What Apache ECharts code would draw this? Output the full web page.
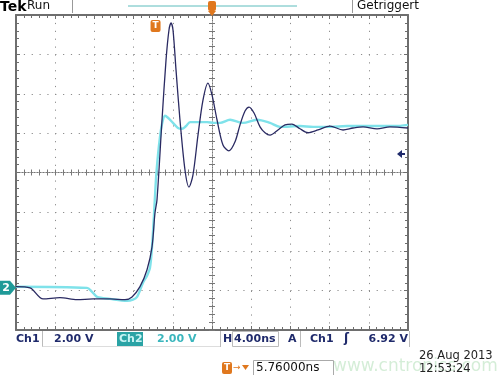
<!DOCTYPE html>
<html><head><meta charset="utf-8">
<script src="https://cdn.jsdelivr.net/npm/echarts@6/dist/echarts.min.js"></script>
<style>html,body{margin:0;padding:0;background:#fff}#c{width:500px;height:375px}</style>
</head><body><div id="c"></div>
<script>
// time in ns (4 ns/div, 0 = screen centre), amplitude in divisions (2 V/div)
const ch1Time = [-20.0,-18.57,-17.24,-15.51,-13.78,-12.14,-10.41,-8.88,-8.16,-7.35,-6.63,-6.12,-5.82,-5.61,-5.10,-4.69,-4.39,-4.18,-3.98,-3.67,-3.27,-2.76,-2.35,-1.94,-1.43,-0.92,-0.41,0.0,0.51,1.12,1.73,2.35,2.86,3.37,3.78,4.29,4.90,5.41,5.92,6.73,7.45,8.16,8.98,9.80,10.82,12.04,13.37,14.39,15.41,16.84,18.16,20.0];
const ch1Div  = [-2.90,-2.93,-3.21,-3.18,-3.23,-3.21,-3.21,-3.23,-3.16,-2.90,-2.47,-1.89,-1.03,-0.69,1.34,2.86,3.62,3.80,3.62,2.60,1.34,0.07,-0.37,-0.06,0.95,1.84,2.27,1.97,1.34,0.70,0.55,0.78,1.21,1.56,1.66,1.51,1.16,1.01,0.95,1.08,1.21,1.23,1.11,1.01,1.08,1.18,1.08,1.13,1.16,1.11,1.16,1.13];
const ch2Time = [-20.0,-12.76,-12.24,-11.73,-10.41,-8.67,-8.06,-7.65,-7.04,-6.63,-6.33,-6.12,-5.92,-5.71,-5.51,-5.31,-5.10,-4.80,-4.49,-3.98,-3.47,-3.06,-2.65,-2.24,-1.43,-0.51,0.20,0.82,1.84,3.16,4.59,5.92,6.94,8.98,10.31,12.04,13.78,15.61,17.14,18.67,20.0];
const ch2Div  = [-2.90,-2.93,-3.03,-3.16,-3.21,-3.26,-3.23,-3.16,-2.80,-2.62,-2.42,-1.89,-1.08,-0.14,0.45,0.90,1.23,1.44,1.39,1.26,1.13,1.11,1.18,1.28,1.28,1.28,1.26,1.26,1.34,1.26,1.34,1.26,1.16,1.18,1.16,1.16,1.18,1.18,1.18,1.18,1.21];
const xRange = [-20, 20];      // 10 divisions x 4 ns
const yRange = [-4, 4];        // 8 divisions
const triggerTime = -5.76;     // ns
const triggerLevelDiv = 0.47;  // 6.92 V trigger level
const ch2GroundDiv = -2.93;

const chart = echarts.init(document.getElementById('c'), null, {renderer:'canvas'});
const gridCol = '#8c8c8c', borderCol = '#6e6e6e';
function xAx(o){ return Object.assign({type:'value', min:xRange[0], max:xRange[1], interval:4, gridIndex:0,
  axisLabel:{show:false}, splitLine:{show:false}, axisLine:{show:false}, axisTick:{show:false}, minorTick:{show:false}}, o); }
function yAx(o){ return Object.assign({type:'value', min:yRange[0], max:yRange[1], interval:1, gridIndex:0,
  axisLabel:{show:false}, splitLine:{show:false}, axisLine:{show:false}, axisTick:{show:false}, minorTick:{show:false}}, o); }
const borderTick = {show:true, inside:true, length:4, lineStyle:{color:borderCol, width:1}};
const borderMinor = {show:true, splitNumber:5, length:3, lineStyle:{color:borderCol, width:1}};
const centreLine = {show:true, onZero:true, onZeroAxisIndex:0, lineStyle:{color:'#777', width:1, type:[1,2]}};
const cTick = (inside)=>({show:true, inside:inside, length:3, lineStyle:{color:'#777', width:1}});
const cMinor = {show:true, splitNumber:5, length:3, lineStyle:{color:'#777', width:1}};

chart.setOption({
  animation:false,
  backgroundColor:'#ffffff',
  grid:{left:16, right:92, top:15, bottom:45, containLabel:false, show:false},
  xAxis:[
    xAx({position:'bottom', axisLine:{show:true, onZero:false, lineStyle:{color:borderCol, width:2}}, axisTick:borderTick, minorTick:borderMinor,
      splitLine:{show:true, lineStyle:{color:gridCol, width:1, type:[1.2,6.68]}}}),
    xAx({position:'top', axisLine:{show:true, onZero:false, lineStyle:{color:borderCol, width:2}}, axisTick:borderTick, minorTick:borderMinor}),
    xAx({position:'bottom', axisLine:centreLine, axisTick:cTick(true), minorTick:cMinor}),
    xAx({position:'bottom', axisLine:centreLine, axisTick:cTick(false), minorTick:cMinor})
  ],
  yAxis:[
    yAx({position:'left', axisLine:{show:true, onZero:false, lineStyle:{color:borderCol, width:2}}, axisTick:borderTick, minorTick:borderMinor,
      splitLine:{show:true, lineStyle:{color:gridCol, width:1, type:[1.2,6.64]}}}),
    yAx({position:'right', axisLine:{show:true, onZero:false, lineStyle:{color:borderCol, width:2}}, axisTick:borderTick, minorTick:borderMinor}),
    yAx({position:'left', axisLine:centreLine, axisTick:cTick(true), minorTick:cMinor}),
    yAx({position:'left', axisLine:centreLine, axisTick:cTick(false), minorTick:cMinor})
  ],
  series:[
    {name:'Ch2', type:'line', xAxisIndex:0, yAxisIndex:0, showSymbol:false, smooth:0.3,
      data: ch2Time.map((t,i)=>[t, ch2Div[i]]), lineStyle:{color:'#7fe2ea', width:2.4}, z:3},
    {name:'Ch1', type:'line', xAxisIndex:0, yAxisIndex:0, showSymbol:false, smooth:0.3,
      data: ch1Time.map((t,i)=>[t, ch1Div[i]]), lineStyle:{color:'#2a2a62', width:1.3}, z:4}
  ]
});

const P = (x,y)=>chart.convertToPixel({xAxisIndex:0, yAxisIndex:0}, [x,y]);
const tPx = P(triggerTime, 0)[0];
const cPx = P(0, 0)[0];
const lvlY = P(0, triggerLevelDiv)[1];
const gY = P(0, ch2GroundDiv)[1];
const rightX = P(xRange[1], 0)[0];
const leftX = P(xRange[0], 0)[0];
const F = '"DejaVu Sans", "Liberation Sans", sans-serif';
const navy = '#1f2a6b';
const orange = '#e0781e';
function txt(x,y,s,o){ return {type:'text', x:x, y:y, z:50, style:Object.assign({text:s, fill:'#111', font:'12px '+F, textVerticalAlign:'middle'}, o||{})}; }
function ln(x1,y1,x2,y2,c,w){ return {type:'line', z:40, shape:{x1:x1,y1:y1,x2:x2,y2:y2}, style:{stroke:c||'#aaa', lineWidth:w||1}}; }
function tIcon(x,y){ return [
  {type:'rect', z:45, shape:{x:x-5, y:y-6, width:10, height:12, r:2}, style:{fill:orange}},
  txt(x, y, 'T', {fill:'#fff', font:'bold 9px '+F, textAlign:'center'})
]; }

const g = [];
// header
g.push(txt(0, 7, 'Tek', {font:'bold 14px '+F, fill:'#000'}));
g.push(txt(27, 6, 'Run', {font:'12px '+F, fill:'#111'}));
g.push(ln(72.5, 0, 72.5, 13, '#999', 1));
g.push(ln(128, 6, 297, 6, '#5cbcbc', 1));
g.push(ln(352.5, 0, 352.5, 13, '#999', 1));
g.push(txt(357, 6, 'Getriggert', {font:'12px '+F, fill:'#111'}));
// expansion-point marker at top centre
g.push({type:'rect', z:45, shape:{x:cPx-4, y:1, width:8, height:10, r:2}, style:{fill:orange}});
g.push({type:'polygon', z:45, shape:{points:[[cPx-4,11],[cPx+4,11],[cPx,16]]}, style:{fill:orange}});
g.push(ln(cPx, 3, cPx, 9, '#fff', 1));
// trigger position marker
tIcon(tPx, 26).forEach(e=>g.push(e));
// trigger level arrow (right)
g.push({type:'polygon', z:45, shape:{points:[[rightX-11,lvlY],[rightX-6,lvlY-4],[rightX-6,lvlY+4]]}, style:{fill:navy}});
g.push(ln(rightX-7, lvlY, rightX-3, lvlY, navy, 2));
// ch2 ground marker
g.push({type:'polygon', z:45, shape:{points:[[0,gY-7],[leftX-6,gY-7],[leftX,gY],[leftX-6,gY+7],[0,gY+7]]}, style:{fill:'#1f9a98'}});
g.push(txt(6, gY, '2', {fill:'#fff', font:'bold 11px '+F, textAlign:'center'}));

// bottom status row
const rowY = 339;
g.push(txt(16, rowY, 'Ch1', {fill:navy, font:'bold 11px '+F}));
g.push(ln(42.5, 331, 42.5, 347, '#bbb', 1));
g.push(ln(42.5, 346.5, 220, 346.5, '#ddd', 1));
g.push(txt(54, rowY, '2.00 V', {fill:navy, font:'bold 11px '+F}));
g.push({type:'rect', z:44, shape:{x:117, y:332, width:26, height:14}, style:{fill:'#2aa3a5'}});
g.push(txt(119, rowY, 'Ch2', {fill:'#c9f4f4', font:'bold 11px '+F}));
g.push(txt(157, rowY, '2.00 V', {fill:'#3ab6bd', font:'bold 11px '+F}));
g.push(ln(220.5, 331, 220.5, 347, '#bbb', 1));
g.push(txt(223, rowY, 'H', {fill:navy, font:'bold 11px '+F}));
g.push({type:'rect', z:44, shape:{x:232.5, y:331.5, width:46, height:15}, style:{fill:'none', stroke:'#bbb', lineWidth:1}});
g.push(txt(234, rowY, '4.00ns', {fill:navy, font:'bold 11px '+F}));
g.push(txt(288, rowY, 'A', {fill:navy, font:'bold 11px '+F}));
g.push(ln(300.5, 331, 300.5, 347, '#bbb', 1));
g.push(txt(310, rowY, 'Ch1', {fill:navy, font:'bold 11px '+F}));
g.push(txt(344, rowY, '\u0283', {fill:navy, font:'bold 12px '+F}));
g.push(txt(408, rowY, '6.92 V', {fill:navy, font:'bold 11px '+F, textAlign:'right'}));
g.push(ln(409.5, 331, 409.5, 347, '#bbb', 1));

// second row
g.push(txt(333, 367, 'www.cntronics.com', {fill:'rgba(120,200,130,0.32)', font:'17px '+F}));
tIcon(227, 368).forEach(e=>g.push(e));
g.push(txt(233, 368, '\u2192', {fill:orange, font:'9px '+F}));
g.push({type:'polygon', z:45, shape:{points:[[242,365],[249,365],[245.5,370]]}, style:{fill:orange}});
g.push({type:'rect', z:44, shape:{x:253.5, y:360.5, width:80, height:15}, style:{fill:'none', stroke:'#aaa', lineWidth:1}});
g.push(txt(256, 368, '5.76000ns', {fill:'#111', font:'12px '+F}));
g.push(txt(419, 356, '26 Aug 2013', {fill:'#222', font:'11.5px '+F}));
g.push(txt(419, 369, '12:53:24', {fill:'#222', font:'11.5px '+F}));

chart.setOption({graphic:g});
</script></body></html>
